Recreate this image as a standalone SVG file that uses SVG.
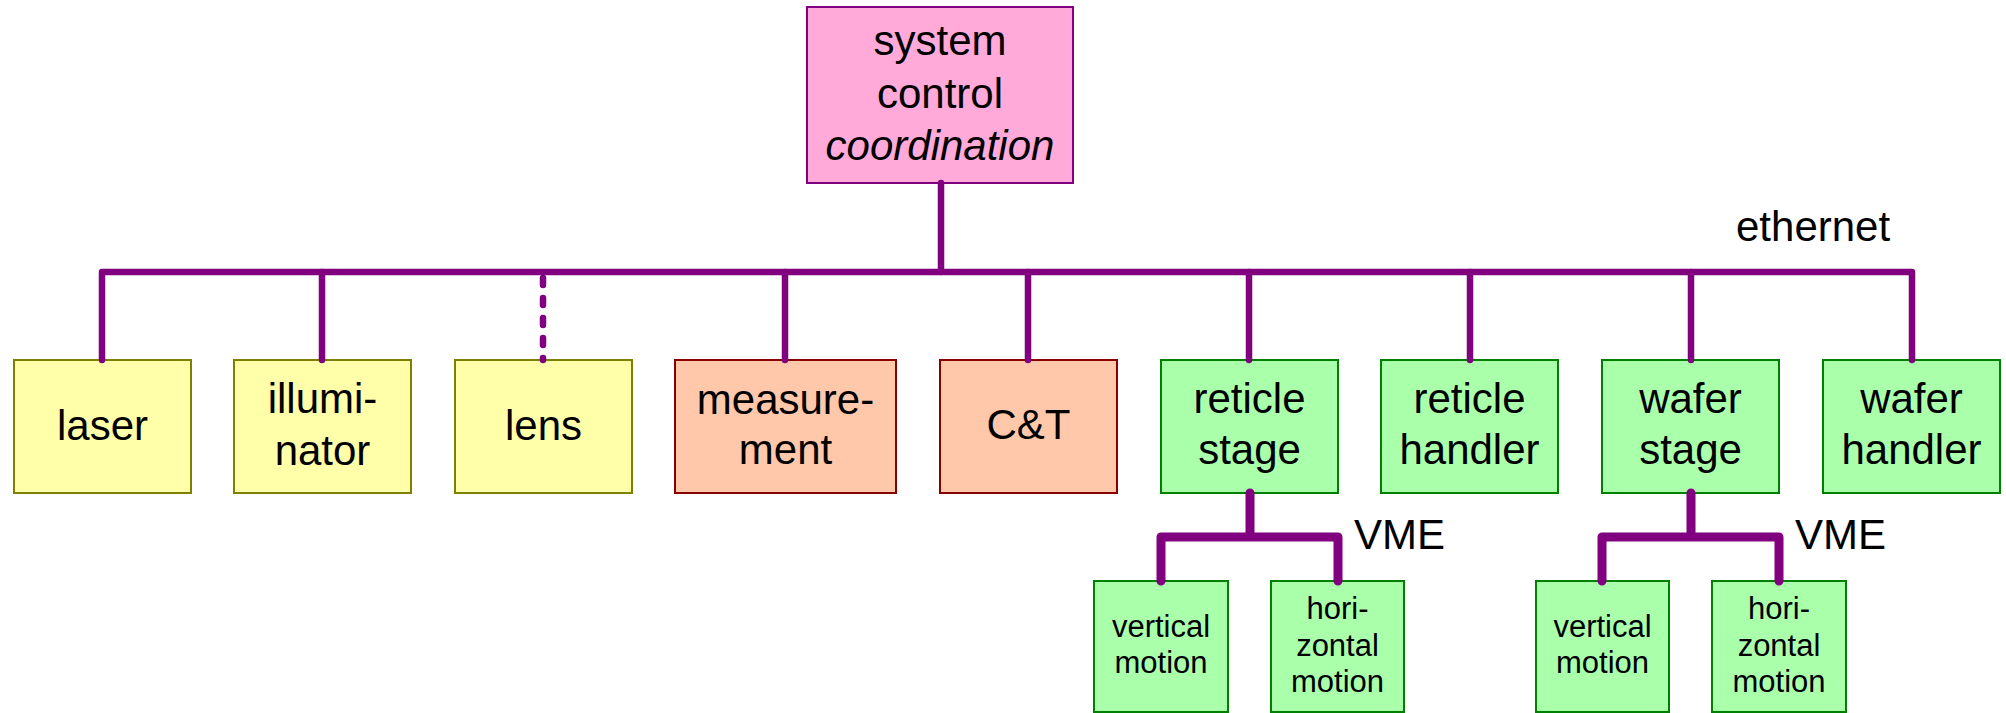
<svg xmlns="http://www.w3.org/2000/svg" width="2006" height="713" viewBox="0 0 2006 713">
<style>
text{font-family:"Liberation Sans",Arial,sans-serif;fill:#000;text-anchor:middle}
.t{font-size:42px}
.s{font-size:31px}
.lbl{font-size:42px;text-anchor:start}
.y rect{fill:#FFFFAA;stroke:#808000;stroke-width:2}
.o rect{fill:#FFC8AA;stroke:#880000;stroke-width:2}
.g rect{fill:#AAFFAA;stroke:#008000;stroke-width:2}
.p rect{fill:#FFAAD8;stroke:#800080;stroke-width:2}
.c{fill:none;stroke:#800080;stroke-linecap:round;stroke-linejoin:round}
.bus{stroke-width:6.5}
.vme{stroke-width:9}
</style>
<rect width="2006" height="713" fill="#fff"/>
<g id="system" class="p"><rect x="807" y="7" width="266" height="176"/><text class="t" x="940" y="55">system</text><text class="t" x="940" y="108">control</text><text class="t" x="940" y="160" font-style="italic">coordination</text></g>
<g id="laser" class="y"><rect x="14" y="360" width="177" height="133"/><text class="t" x="102.5" y="440">laser</text></g>
<g id="illuminator" class="y"><rect x="234" y="360" width="177" height="133"/><text class="t" x="322.5" y="413">illumi-</text><text class="t" x="322.5" y="465">nator</text></g>
<g id="lens" class="y"><rect x="455" y="360" width="177" height="133"/><text class="t" x="543.5" y="440">lens</text></g>
<g id="measurement" class="o"><rect x="675" y="360" width="221" height="133"/><text class="t" x="785.5" y="414">measure-</text><text class="t" x="785.5" y="464">ment</text></g>
<g id="ct" class="o"><rect x="940" y="360" width="177" height="133"/><text class="t" x="1028.5" y="439">C&amp;T</text></g>
<g id="reticle-stage" class="g"><rect x="1161" y="360" width="177" height="133"/><text class="t" x="1249.5" y="413">reticle</text><text class="t" x="1249.5" y="464">stage</text></g>
<g id="reticle-handler" class="g"><rect x="1381" y="360" width="177" height="133"/><text class="t" x="1469.5" y="413">reticle</text><text class="t" x="1469.5" y="464">handler</text></g>
<g id="wafer-stage" class="g"><rect x="1602" y="360" width="177" height="133"/><text class="t" x="1690.5" y="413">wafer</text><text class="t" x="1690.5" y="464">stage</text></g>
<g id="wafer-handler" class="g"><rect x="1823" y="360" width="177" height="133"/><text class="t" x="1911.5" y="413">wafer</text><text class="t" x="1911.5" y="464">handler</text></g>
<g id="rs-vertical" class="g"><rect x="1094" y="581" width="134" height="131"/><text class="s" x="1161" y="637">vertical</text><text class="s" x="1161" y="673">motion</text></g>
<g id="rs-horizontal" class="g"><rect x="1271" y="581" width="133" height="131"/><text class="s" x="1337.5" y="619">hori-</text><text class="s" x="1337.5" y="656">zontal</text><text class="s" x="1337.5" y="692">motion</text></g>
<g id="ws-vertical" class="g"><rect x="1536" y="581" width="133" height="131"/><text class="s" x="1602.5" y="637">vertical</text><text class="s" x="1602.5" y="673">motion</text></g>
<g id="ws-horizontal" class="g"><rect x="1712" y="581" width="134" height="131"/><text class="s" x="1779" y="619">hori-</text><text class="s" x="1779" y="656">zontal</text><text class="s" x="1779" y="692">motion</text></g>
<g id="connectors">
<path class="c bus" d="M102,360 V272 H1912 V360"/>
<path class="c bus" d="M941,183 V272"/>
<path class="c bus" d="M322,272 V360 M785,272 V360 M1028,272 V360 M1249,272 V360 M1470,272 V360 M1691,272 V360"/>
<path class="c bus" d="M543,278 V360" stroke-dasharray="7 13"/>
<path class="c vme" d="M1250,493 V537 M1161,581 V537 H1338 V581"/>
<path class="c vme" d="M1691,493 V537 M1602,581 V537 H1779 V581"/>
</g>
<g id="labels">
<text class="lbl" x="1736" y="241">ethernet</text>
<text class="lbl" x="1354" y="549">VME</text>
<text class="lbl" x="1795" y="549">VME</text>
</g>
</svg>
